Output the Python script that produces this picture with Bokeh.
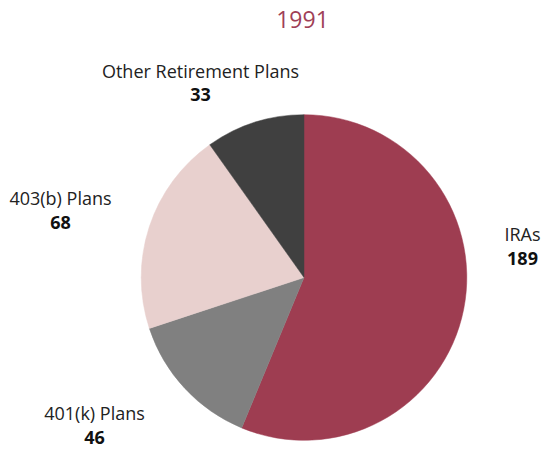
import math
from bokeh.plotting import figure
from bokeh.models import Range1d
from bokeh.core.properties import value
from bokeh.embed import file_html
from bokeh.resources import INLINE

# ---- data ----
title_text = "1991"
categories = ["IRAs", "401(k) Plans", "403(b) Plans", "Other Retirement Plans"]
values = [189, 46, 68, 33]
colors = ["#9E3D51", "#808080", "#E8D0CE", "#404040"]

# ---- layout (pixel coords of picture: x right, y down) ----
W, H = 542, 450
cx_px, cy_px, r_px = 303.5, 277.0, 162.8
# label anchor centers (x center, name baseline, value baseline) in picture pixels
label_pos = [(522, 233, 258), (94, 412, 437), (60, 197, 222), (200, 70, 94)]

def X(px):
    return px
def Y(py):
    return H - py

p = figure(width=W, height=H, x_range=Range1d(0, W), y_range=Range1d(0, H),
           output_backend="svg", toolbar_location=None, min_border=0,
           min_border_left=0, min_border_right=0, min_border_top=0, min_border_bottom=0)
p.axis.visible = False
p.grid.visible = False
p.outline_line_color = None
p.background_fill_color = "white"
p.border_fill_color = "white"

total = float(sum(values))
starts, ends = [], []
a = math.pi / 2
for v in values:
    starts.append(a)
    a = a - 2 * math.pi * v / total
    ends.append(a)

p.wedge(x=[X(cx_px)] * len(values), y=[Y(cy_px)] * len(values), radius=r_px,
        start_angle=starts, end_angle=ends, direction="clock",
        fill_color=colors, line_color=colors, line_width=0.5)

FONT = "Open Sans"
p.text(x=[X(302)], y=[Y(19)], text=[title_text], text_font=value(FONT),
       text_font_size="23px", text_color="#A03F57", text_align="center",
       text_baseline="alphabetic")

p.text(x=[X(lp[0]) for lp in label_pos], y=[Y(lp[1]) for lp in label_pos],
       text=categories, text_font=value(FONT), text_font_size="18px",
       text_color="#222222", text_align="center", text_baseline="alphabetic")
p.text(x=[X(lp[0]) for lp in label_pos], y=[Y(lp[2]) for lp in label_pos],
       text=[str(v) for v in values], text_font=value(FONT), text_font_size="18px",
       text_font_style="bold", text_color="#111111", text_align="center",
       text_baseline="alphabetic")

open("out.html", "w").write(file_html(p, INLINE))
